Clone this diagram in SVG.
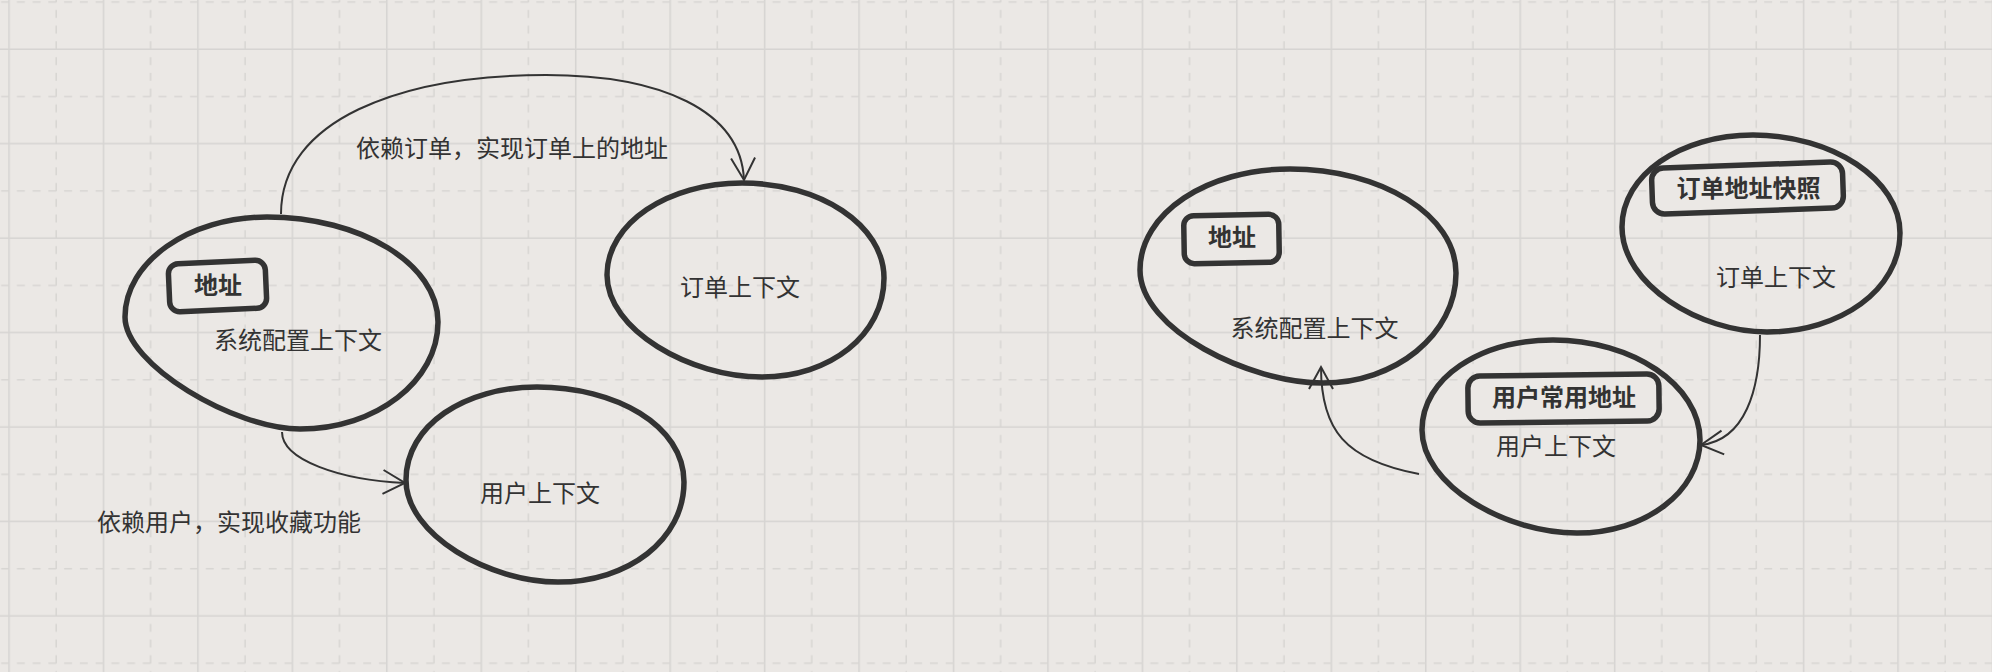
<svg xmlns="http://www.w3.org/2000/svg" width="1992" height="672" viewBox="0 0 1992 672">
<style>
.bg{fill:#ebe8e5}
.gs{stroke:#d6d4d2;stroke-width:1.6}
.gd{stroke:#d8d6d3;stroke-width:1.6;stroke-dasharray:8 7.74}
.ctx{fill:none;stroke:#333;stroke-width:5.5;stroke-linejoin:round}
.box{fill:#ebe8e5;stroke:#333;stroke-width:5.5}
.edge{fill:none;stroke:#333;stroke-width:2;marker-end:url(#arrow)}
.t{font-family:"Noto Sans CJK SC","Noto Sans",sans-serif;font-size:24px;fill:#333}
.b{font-weight:bold}
</style>
<defs>
<pattern id="grid" patternUnits="userSpaceOnUse" x="-14.6" y="-21.6" width="94.45" height="94.45">
<line class="gs" x1="23.6" y1="0" x2="23.6" y2="94.45"/>
<line class="gd" x1="70.8" y1="0" x2="70.8" y2="94.45"/>
<line class="gd" x1="0" y1="23.6" x2="94.45" y2="23.6"/>
<line class="gs" x1="0" y1="70.8" x2="94.45" y2="70.8"/>
</pattern>
<marker id="arrow" markerUnits="userSpaceOnUse" viewBox="-25 -15 30 30" markerWidth="30" markerHeight="30" refX="0" refY="0" orient="auto" overflow="visible">
<path d="M-22,-12 L0,0 L-22,12" fill="none" stroke="#333" stroke-width="2"/>
</marker>
</defs>
<rect class="bg" x="0" y="0" width="1992" height="672"/>
<rect x="0" y="0" width="1992" height="672" fill="url(#grid)"/>

<g id="connectors">
<path class="edge" d="M281,214 C281,120 400,75 546,75 C660,75 741,110 744,180"/>
<text class="t" x="356" y="156.5">依赖订单，实现订单上的地址</text>
<path class="edge" d="M282,432 C282,460 340,480 405,483"/>
<text class="t" x="97" y="531">依赖用户，实现收藏功能</text>
<path class="edge" d="M1419,474 C1345,460 1321,430 1321,367"/>
<path class="edge" d="M1760,335 C1760,390 1745,440 1701,445"/>
</g>

<g id="sys-left">
<path class="ctx" d="M125,317 C125,262 189,217 267,217 C361,217 438,264 438,322 C438,381 376,429 300,429 C235,429 125,365 125,317 Z"/>
<rect class="box" x="169" y="262" width="97" height="48" rx="10" transform="rotate(-2.5 218 286)"/>
<text class="t b" x="218" y="294" text-anchor="middle">地址</text>
<text class="t" x="298" y="349" text-anchor="middle">系统配置上下文</text>
</g>

<g id="order-left">
<path class="ctx" d="M607,275 C607,223 668,183 742,183 C820,183 884,225 884,278 C884,335 830,377 762,377 C690,377 607,330 607,275 Z"/>
<text class="t" x="740" y="296" text-anchor="middle">订单上下文</text>
</g>

<g id="user-left">
<path class="ctx" d="M406,480 C406,425 465,387 537,387 C615,387 684,425 684,482 C684,540 628,582 558,582 C490,582 406,535 406,480 Z"/>
<text class="t" x="540" y="501.5" text-anchor="middle">用户上下文</text>
</g>

<g id="sys-right">
<path class="ctx" d="M1140,270 C1140,213 1207,169 1290,169 C1381,169 1456,215 1456,273 C1456,335 1395,383 1323,383 C1250,383 1140,330 1140,270 Z"/>
<rect class="box" x="1184" y="215" width="95" height="48" rx="10" transform="rotate(-1 1231 239)"/>
<text class="t b" x="1232" y="246" text-anchor="middle">地址</text>
<text class="t" x="1314.5" y="336.5" text-anchor="middle">系统配置上下文</text>
</g>

<g id="order-right">
<path class="ctx" d="M1622,227 C1622,175 1680,135 1753,135 C1833,135 1900,180 1900,233 C1900,290 1840,332 1767,332 C1700,332 1622,285 1622,227 Z"/>
<rect class="box" x="1652" y="165" width="191" height="46" rx="12" transform="rotate(-2 1748 188)"/>
<text class="t b" x="1748.5" y="196.5" text-anchor="middle">订单地址快照</text>
<text class="t" x="1776" y="285.5" text-anchor="middle">订单上下文</text>
</g>

<g id="user-right">
<path class="ctx" d="M1422,430 C1422,378 1480,340 1553,340 C1632,340 1700,385 1700,440 C1700,492 1645,533 1577,533 C1505,533 1422,485 1422,430 Z"/>
<rect class="box" x="1468" y="375" width="191" height="47" rx="12" transform="rotate(-0.7 1563 398)"/>
<text class="t b" x="1564" y="406" text-anchor="middle">用户常用地址</text>
<text class="t" x="1556" y="454.5" text-anchor="middle">用户上下文</text>
</g>
</svg>
